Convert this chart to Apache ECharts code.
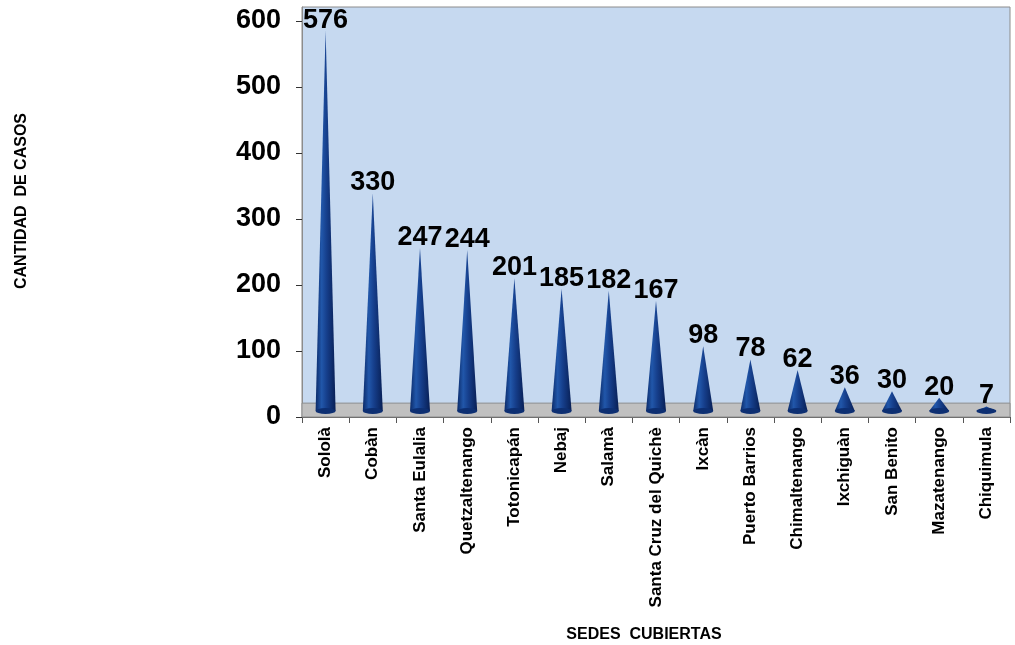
<!DOCTYPE html>
<html>
<head>
<meta charset="utf-8">
<script src="https://cdn.jsdelivr.net/npm/echarts@6/dist/echarts.min.js"></script>
<style>html,body{margin:0;padding:0;background:#fff}#c{width:1015px;height:645px}</style>
</head>
<body>
<div id="c"></div>
<script>
const categories = ['Sololà','Cobàn','Santa Eulalia','Quetzaltenango','Totonicapán','Nebaj','Salamà','Santa Cruz del Quichè','Ixcàn','Puerto Barrios','Chimaltenango','Ixchiguàn','San Benito','Mazatenango','Chiquimula'];
const casos = [576,330,247,244,201,185,182,167,98,78,62,36,30,20,7];
const yTicks = [0,100,200,300,400,500,600];
const floorTop = 21;

const font = 'Arial, "Liberation Sans", sans-serif';
const coneFill = {
  type: 'linear', x: 0, y: 0, x2: 1, y2: 0,
  colorStops: [
    {offset: 0, color: '#0b2a68'},
    {offset: 0.3, color: '#2157aa'},
    {offset: 0.55, color: '#163f8c'},
    {offset: 1, color: '#081f55'}
  ]
};
const chart = echarts.init(document.getElementById('c'), null, {renderer: 'canvas'});
chart.setOption({
  animation: false,
  grid: {
    left: 302, right: 5, top: 7, bottom: 228,
    outerBoundsMode: 'none',
    containLabel: false,
    show: true, backgroundColor: '#c6d9f0', borderColor: '#8c8c8c', borderWidth: 1
  },
  xAxis: {
    type: 'category',
    data: categories,
    name: 'SEDES  CUBIERTAS',
    nameLocation: 'middle',
    nameGap: 210,
    nameTextStyle: {fontFamily: font, fontWeight: 'bold', fontSize: 16, color: '#000', padding: [0, 24, 0, 0]},
    axisLine: {lineStyle: {color: '#555', width: 1}},
    axisTick: {show: true, length: 6, lineStyle: {color: '#555'}},
    axisLabel: {rotate: 90, margin: 10, fontFamily: font, fontWeight: 'bold', fontSize: 17, color: '#000'}
  },
  yAxis: {
    type: 'value',
    min: 0, max: 621, interval: 100,
    name: 'CANTIDAD  DE CASOS',
    nameLocation: 'middle',
    nameRotate: 90,
    nameGap: 272,
    nameTextStyle: {fontFamily: font, fontWeight: 'bold', fontSize: 16, color: '#000', padding: [0, 0, 0, 22]},
    splitLine: {show: false},
    axisLine: {show: true, lineStyle: {color: '#8c8c8c'}},
    axisTick: {show: true, length: 6, lineStyle: {color: '#333'}, customValues: yTicks},
    axisLabel: {margin: 21, fontFamily: font, fontWeight: 'bold', fontSize: 27, color: '#000', customValues: yTicks}
  },
  series: [
    {
      type: 'line', data: [], silent: true,
      markArea: {
        silent: true,
        itemStyle: {color: '#c0c0c0', borderColor: '#8c8c8c', borderWidth: 1},
        data: [[{yAxis: 0}, {yAxis: floorTop}]]
      }
    },
    {
      type: 'pictorialBar',
      data: casos,
      z: 3,
      symbol: 'path://M10,0 L20,100 L0,100 Z',
      symbolSize: [20, '100%'],
      symbolOffset: [0, -6],
      itemStyle: {color: coneFill},
      label: {
        show: true, position: 'top', distance: -3,
        fontFamily: font, fontWeight: 'bold', fontSize: 27, color: '#000'
      }
    },
    {
      type: 'pictorialBar',
      data: casos,
      z: 4,
      barGap: '-100%',
      symbol: 'circle',
      symbolSize: [20, 6],
      symbolPosition: 'start',
      symbolOffset: [0, -3],
      itemStyle: {color: '#0d2f72'}
    }
  ]
});
</script>
</body>
</html>
